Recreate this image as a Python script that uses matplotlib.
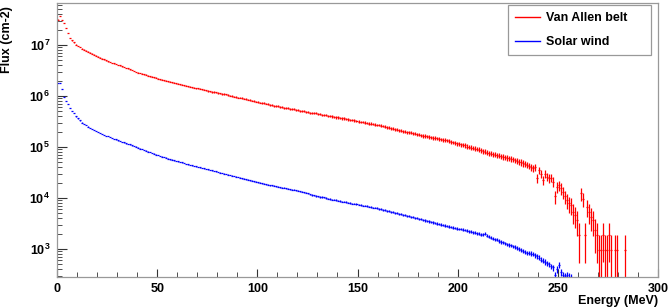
import numpy as np
import matplotlib
matplotlib.use("Agg")
import matplotlib.pyplot as plt
from matplotlib.lines import Line2D
from matplotlib.ticker import LogLocator, MultipleLocator

plt.rcParams["font.family"] = ["Liberation Sans", "DejaVu Sans"]
plt.rcParams["font.weight"] = "bold"
plt.rcParams["mathtext.fontset"] = "custom"
plt.rcParams["mathtext.bf"] = "Liberation Sans:bold"
plt.rcParams["mathtext.rm"] = "Liberation Sans:bold"
plt.rcParams["mathtext.default"] = "bf"

# DONNEES : log10 du flux, un bin par MeV (centres 0.5, 1.5, ...)
# nan = bin vide
VAN_ALLEN_LOG = [
    7.50, 7.57, 7.49, 7.43, 7.33, 7.23, 7.14, 7.09, 7.05, 7.01,
    6.98, 6.96, 6.93, 6.91, 6.89, 6.87, 6.85, 6.83, 6.81, 6.79,
    6.77, 6.75, 6.73, 6.72, 6.70, 6.68, 6.67, 6.65, 6.64, 6.63,
    6.61, 6.60, 6.58, 6.57, 6.55, 6.54, 6.52, 6.51, 6.49, 6.47,
    6.46, 6.45, 6.44, 6.43, 6.42, 6.40, 6.39, 6.38, 6.37, 6.36,
    6.34, 6.33, 6.32, 6.31, 6.30, 6.29, 6.28, 6.27, 6.26, 6.25,
    6.24, 6.23, 6.22, 6.21, 6.20, 6.19, 6.18, 6.17, 6.16, 6.15,
    6.15, 6.14, 6.13, 6.12, 6.11, 6.10, 6.09, 6.08, 6.08, 6.07,
    6.06, 6.05, 6.04, 6.04, 6.03, 6.02, 6.01, 6.00, 5.99, 5.98,
    5.97, 5.97, 5.96, 5.95, 5.94, 5.93, 5.92, 5.91, 5.90, 5.89,
    5.88, 5.87, 5.86, 5.86, 5.85, 5.84, 5.83, 5.82, 5.81, 5.80,
    5.80, 5.79, 5.78, 5.77, 5.77, 5.76, 5.75, 5.74, 5.74, 5.73,
    5.72, 5.71, 5.70, 5.70, 5.69, 5.68, 5.67, 5.67, 5.66, 5.66,
    5.65, 5.64, 5.63, 5.63, 5.62, 5.61, 5.61, 5.60, 5.59, 5.58,
    5.58, 5.57, 5.56, 5.56, 5.55, 5.54, 5.53, 5.53, 5.52, 5.51,
    5.50, 5.49, 5.49, 5.48, 5.47, 5.46, 5.46, 5.45, 5.44, 5.43,
    5.43, 5.42, 5.41, 5.40, 5.39, 5.38, 5.37, 5.36, 5.35, 5.34,
    5.33, 5.32, 5.31, 5.30, 5.29, 5.29, 5.28, 5.27, 5.26, 5.25,
    5.24, 5.23, 5.22, 5.22, 5.21, 5.20, 5.19, 5.18, 5.18, 5.17,
    5.16, 5.15, 5.14, 5.14, 5.13, 5.12, 5.10, 5.09, 5.08, 5.07,
    5.06, 5.05, 5.04, 5.03, 5.01, 5.00, 4.99, 4.98, 4.97, 4.96,
    4.95, 4.94, 4.92, 4.91, 4.89, 4.88, 4.87, 4.86, 4.85, 4.84,
    4.83, 4.82, 4.81, 4.80, 4.79, 4.78, 4.77, 4.76, 4.74, 4.72,
    4.71, 4.70, 4.68, 4.67, 4.65, 4.63, 4.61, 4.58, 4.61, 4.39,
    4.55, 4.47, 4.35, 4.48, 4.42, 4.39, 4.40, 4.32, 4.03, 4.22,
    4.25, 4.19, 4.12, 4.03, 3.96, 3.90, 3.86, 3.73, 3.67, 3.57,
    3.27, 4.09, 3.99, 3.27, 3.83, 3.73, 3.63, 3.57, 3.37, 3.27,
    2.98, 2.98, 3.28, 2.98, 2.98, 3.28, 2.98, np.nan, 2.98, 2.98,
    np.nan, np.nan, np.nan, 2.98,
]

SOLAR_WIND_LOG = [
    6.25, 6.26, 6.13, 5.98, 5.90, 5.84, 5.76, 5.71, 5.66, 5.60,
    5.56, 5.52, 5.48, 5.45, 5.43, 5.40, 5.38, 5.35, 5.33, 5.31,
    5.29, 5.27, 5.25, 5.24, 5.22, 5.21, 5.19, 5.18, 5.16, 5.15,
    5.13, 5.12, 5.10, 5.09, 5.07, 5.06, 5.05, 5.03, 5.02, 5.01,
    4.99, 4.97, 4.96, 4.94, 4.93, 4.91, 4.90, 4.88, 4.87, 4.85,
    4.84, 4.82, 4.81, 4.80, 4.79, 4.77, 4.76, 4.75, 4.74, 4.73,
    4.72, 4.71, 4.70, 4.69, 4.67, 4.66, 4.65, 4.64, 4.63, 4.62,
    4.61, 4.60, 4.59, 4.58, 4.57, 4.56, 4.55, 4.54, 4.53, 4.52,
    4.51, 4.50, 4.49, 4.48, 4.47, 4.46, 4.45, 4.44, 4.43, 4.42,
    4.41, 4.40, 4.39, 4.38, 4.37, 4.36, 4.35, 4.34, 4.33, 4.32,
    4.31, 4.30, 4.29, 4.28, 4.27, 4.26, 4.25, 4.25, 4.24, 4.23,
    4.22, 4.21, 4.20, 4.20, 4.19, 4.18, 4.17, 4.16, 4.16, 4.15,
    4.14, 4.13, 4.12, 4.11, 4.10, 4.09, 4.07, 4.06, 4.05, 4.04,
    4.03, 4.02, 4.02, 4.01, 4.00, 3.99, 3.98, 3.97, 3.97, 3.96,
    3.95, 3.94, 3.93, 3.93, 3.92, 3.91, 3.90, 3.89, 3.89, 3.88,
    3.87, 3.86, 3.85, 3.85, 3.84, 3.83, 3.82, 3.81, 3.81, 3.80,
    3.79, 3.78, 3.77, 3.76, 3.75, 3.74, 3.73, 3.72, 3.71, 3.70,
    3.69, 3.68, 3.67, 3.66, 3.65, 3.64, 3.63, 3.62, 3.61, 3.60,
    3.59, 3.58, 3.57, 3.56, 3.55, 3.54, 3.53, 3.52, 3.51, 3.50,
    3.49, 3.48, 3.47, 3.46, 3.45, 3.44, 3.43, 3.42, 3.41, 3.40,
    3.39, 3.39, 3.38, 3.37, 3.36, 3.35, 3.34, 3.33, 3.32, 3.31,
    3.30, 3.28, 3.29, 3.30, 3.26, 3.24, 3.22, 3.20, 3.19, 3.18,
    3.16, 3.14, 3.13, 3.11, 3.09, 3.08, 3.07, 3.05, 3.04, 3.02,
    3.00, 2.98, 2.97, 2.95, 2.93, 2.92, 2.91, 2.90, 2.88, 2.86,
    2.83, 2.79, 2.77, 2.75, 2.72, 2.70, 2.66, 2.64, 2.49, 2.60,
    2.69, 2.55, 2.49, 2.47, 2.49, 2.46, 2.45,
]

# poids d'un evenement (erreurs statistiques sqrt(N) * w)
WEIGHT_VAN_ALLEN = 950.0
WEIGHT_SOLAR = 8.0

SERIES = [
    ("Van Allen belt", VAN_ALLEN_LOG, WEIGHT_VAN_ALLEN, "#ff0000"),
    ("Solar wind", SOLAR_WIND_LOG, WEIGHT_SOLAR, "#0000ff"),
]

fig = plt.figure(figsize=(6.71, 3.08), dpi=100)
ax = fig.add_axes([57 / 671, 31 / 308, 601 / 671, 274 / 308])

for label, logs, w, color in SERIES:
    logs = np.array(logs, dtype=float)
    centers = np.arange(len(logs)) + 0.5
    ok = ~np.isnan(logs)
    x = centers[ok]
    y = 10 ** logs[ok]
    err = np.sqrt(y * w)
    low = np.minimum(err, y - 1.0)
    ax.errorbar(x, y, xerr=0.5, yerr=[low, err], fmt="none",
                ecolor=color, elinewidth=0.9, capsize=0)

ax.set_yscale("log")
ax.set_xlim(0, 300)
ax.set_ylim(10 ** 2.451, 10 ** 7.824)

ax.xaxis.set_major_locator(MultipleLocator(50))
ax.xaxis.set_minor_locator(MultipleLocator(10))
ax.yaxis.set_major_locator(LogLocator(base=10, numticks=10))
ax.yaxis.set_minor_locator(LogLocator(base=10, subs=np.arange(2, 10), numticks=20))
ax.yaxis.set_minor_formatter(plt.NullFormatter())

ax.tick_params(which="both", direction="in", colors="#333333", labelcolor="black",
               labelsize=9)
ax.tick_params(axis="x", which="major", length=6, pad=4)
ax.tick_params(axis="x", which="minor", length=3.5)
ax.tick_params(axis="y", which="major", length=7, pad=5)
ax.tick_params(axis="y", which="minor", length=3.5)
for lbl in ax.get_xticklabels() + ax.get_yticklabels():
    lbl.set_fontweight("bold")

for sp in ax.spines.values():
    sp.set_color("#999999")
    sp.set_linewidth(0.9)

ax.set_xlabel("Energy (MeV)", fontsize=9, fontweight="bold", loc="right", labelpad=0)
ax.set_ylabel("Flux (cm-2)", fontsize=9, fontweight="bold", loc="top")
ax.yaxis.set_label_coords(-0.074, 0.99)

handles = [Line2D([], [], color=c, lw=1.0) for _, _, _, c in SERIES]
leg = ax.legend(handles, [s[0] for s in SERIES], loc="upper left",
                bbox_to_anchor=(0.7504, 0.8175, 0.238, 0.175), mode="expand",
                borderaxespad=0, fancybox=False, framealpha=1, edgecolor="#999999",
                handlelength=2.0, handletextpad=0.5, labelspacing=1.0,
                borderpad=0.55, prop={"weight": "bold", "size": 9})
leg.get_frame().set_linewidth(0.9)

fig.savefig("out.png", dpi=100)
